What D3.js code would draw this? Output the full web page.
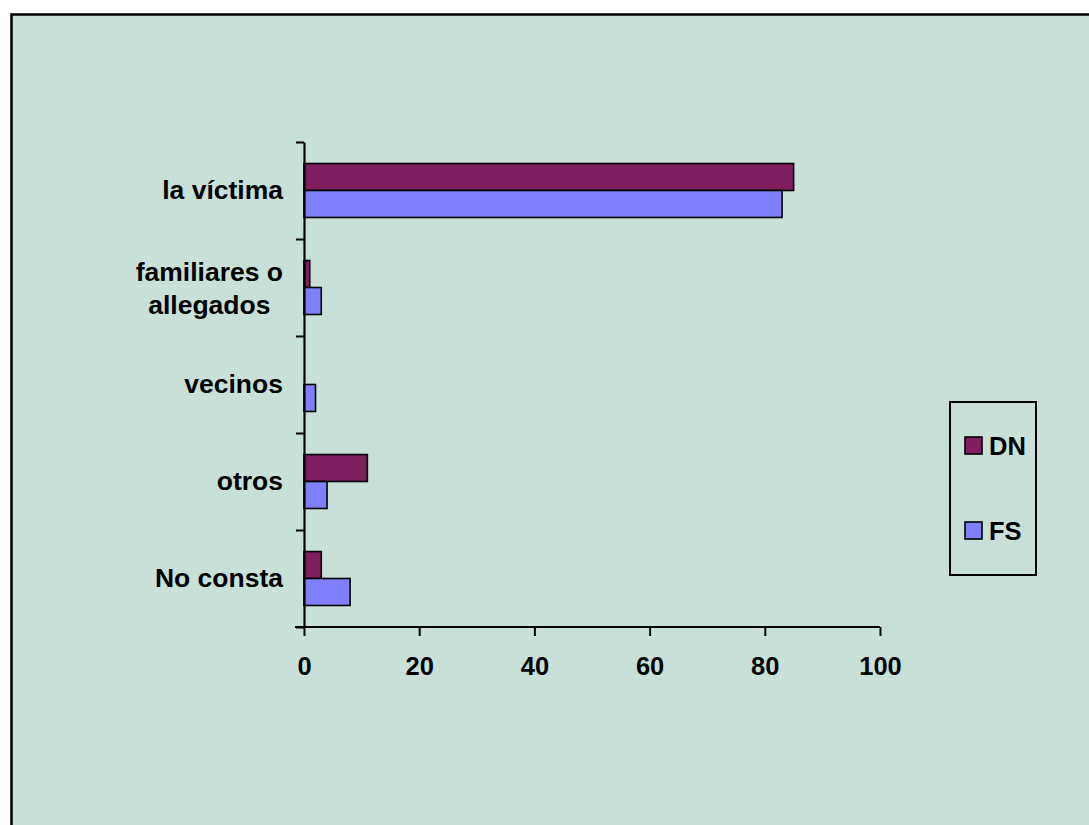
<!DOCTYPE html>
<html>
<head>
<meta charset="utf-8">
<script src="https://cdn.jsdelivr.net/npm/d3@7"></script>
<style>
  body { margin: 0; background: #fff; }
  svg { display: block; }
  text { font-family: Arial, 'Liberation Sans', sans-serif; font-weight: bold; fill: #000; }
</style>
</head>
<body>
<svg id="chart"></svg>
<script>
// Data
const categories = ['la víctima', 'familiares o allegados', 'vecinos', 'otros', 'No consta'];
const categoryLines = [['la víctima'], ['familiares o', 'allegados'], ['vecinos'], ['otros'], ['No consta']];
const seriesNames = ['DN', 'FS'];
const valuesDN = [85, 1, 0, 11, 3];
const valuesFS = [83, 3, 2, 4, 8];
const xTicks = [0, 20, 40, 60, 80, 100];

const config = {
  width: 1089,
  height: 825,
  plot: {left: 304, right: 880, top: 142, bottom: 627},
  colors: {DN: '#801f5f', FS: '#8080ff'},
  bg: '#c8e0d8'
};

const svg = d3.select('#chart')
    .attr('width', config.width)
    .attr('height', config.height);

// Chart area with its border (runs off the right and bottom edges)
svg.append('rect')
    .attr('x', 11.5)
    .attr('y', 14.5)
    .attr('width', 1200)
    .attr('height', 1000)
    .attr('fill', config.bg)
    .attr('stroke', '#000')
    .attr('stroke-width', 2.5);

const p = config.plot;

// Scales
const xScale = d3.scaleLinear()
    .domain([0, 100])
    .range([p.left, p.right]);

const yScale = d3.scaleBand()
    .domain(categories)
    .range([p.top, p.bottom]);

const bw = yScale.bandwidth();
const yInner = d3.scaleBand()
    .domain(seriesNames)
    .range([bw * 0.222, bw * 0.778]);

// Bars
const rows = categories.map((c, i) => ({cat: c, DN: valuesDN[i], FS: valuesFS[i]}));

const groups = svg.selectAll('.group')
    .data(rows)
  .join('g')
    .attr('class', 'group')
    .attr('transform', d => `translate(0,${yScale(d.cat)})`);

groups.selectAll('rect')
    .data(d => seriesNames.map(s => ({key: s, value: d[s]})).filter(e => e.value > 0))
  .join('rect')
    .attr('x', xScale(0))
    .attr('y', d => yInner(d.key))
    .attr('width', d => xScale(d.value) - xScale(0))
    .attr('height', yInner.bandwidth())
    .attr('fill', d => config.colors[d.key])
    .attr('stroke', '#000')
    .attr('stroke-width', 1.6);

// X axis
const xAxis = d3.axisBottom(xScale)
    .tickValues(xTicks)
    .tickSize(9)
    .tickPadding(21)
    .tickSizeOuter(0);

svg.append('g')
    .attr('transform', `translate(0,${p.bottom})`)
    .call(xAxis)
    .call(g => g.select('.domain')
        .attr('d', `M${p.left - 9},0H${p.right}`)
        .attr('stroke', '#000')
        .attr('stroke-width', 2.2))
    .call(g => g.selectAll('.tick line').attr('stroke', '#000').attr('stroke-width', 2))
    .call(g => g.selectAll('.tick text')
        .attr('font-size', 25.5)
        .attr('font-family', null));

// Y axis: tick marks sit on the category boundaries
const yBounds = d3.scaleLinear()
    .domain([0, categories.length])
    .range([p.top, p.bottom]);

svg.append('g')
    .attr('transform', `translate(${p.left},0)`)
    .call(d3.axisLeft(yBounds).ticks(categories.length).tickFormat('').tickSize(8).tickSizeOuter(0))
    .call(g => g.select('.domain').attr('stroke', '#000').attr('stroke-width', 2.2))
    .call(g => g.selectAll('.tick line').attr('stroke', '#000').attr('stroke-width', 2));

// Category labels: block is right aligned, wrapped lines centred on each other
const labelRight = 283;
const lineGap = 33;
svg.selectAll('.cat-label')
    .data(categoryLines)
  .join('text')
    .attr('class', 'cat-label')
    .attr('text-anchor', 'middle')
    .attr('font-size', 26.5)
    .each(function(lines, i) {
      const cy = yScale(categories[i]) + bw / 2 + 8 + (lines.length > 1 ? 2 : 0);
      const start = cy - (lines.length - 1) * lineGap / 2;
      const spans = d3.select(this).selectAll('tspan')
          .data(lines)
        .join('tspan')
          .attr('y', (d, j) => start + j * lineGap)
          .text(d => d);
      let maxW = 0;
      spans.each(function() { maxW = Math.max(maxW, this.getComputedTextLength()); });
      spans.attr('x', labelRight - maxW / 2);
    });

// Legend
const legend = svg.append('g')
    .attr('transform', 'translate(950,402)');

legend.append('rect')
    .attr('width', 86)
    .attr('height', 173)
    .attr('fill', config.bg)
    .attr('stroke', '#000')
    .attr('stroke-width', 2);

const legendItems = legend.selectAll('.item')
    .data(seriesNames)
  .join('g')
    .attr('class', 'item')
    .attr('transform', (d, i) => `translate(15,${35 + i * 85})`);

legendItems.append('rect')
    .attr('width', 17)
    .attr('height', 17)
    .attr('fill', d => config.colors[d])
    .attr('stroke', '#000')
    .attr('stroke-width', 1.6);

legendItems.append('text')
    .attr('x', 24)
    .attr('y', 17.5)
    .attr('font-size', 25.5)
    .text(d => d);
</script>
</body>
</html>
